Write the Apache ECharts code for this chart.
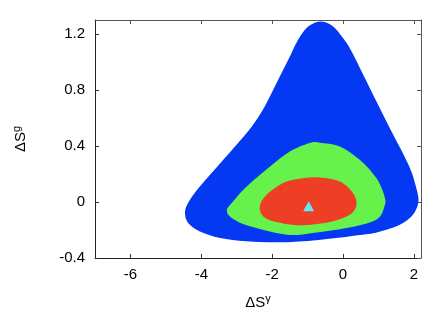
<!DOCTYPE html>
<html lang="en">
<head>
    <meta charset="UTF-8">
    <title>contours</title>
    <script src="https://cdn.jsdelivr.net/npm/echarts@6/dist/echarts.min.js"></script>
    <style>
        html, body { margin: 0; padding: 0; background: #fff; }
        #box { width: 443px; height: 320px; }
    </style>
</head>
<body>
    <div id="box"></div>
    <script>
        // tick labels
        var xTicks = [-6, -4, -2, 0, 2]
        var yTicks = [-0.4, 0, 0.4, 0.8, 1.2]

        // outer region (blue)
        var blueRegion = [
            [-0.61, 1.29], [-0.28, 1.254], [0, 1.171], [0.245, 1.074], [0.64, 0.874],
            [1.06, 0.659], [1.43, 0.474], [1.71, 0.338], [1.93, 0.216], [2.08, 0.088],
            [2.13, 0.016], [2.08, -0.043], [1.93, -0.103], [1.60, -0.162], [1.03, -0.212],
            [0.55, -0.234], [-0.85, -0.275], [-1.78, -0.288], [-2.72, -0.281], [-3.47, -0.257],
            [-4.04, -0.21], [-4.37, -0.15], [-4.46, -0.067], [-4.32, 0.016], [-4.04, 0.111],
            [-3.71, 0.207], [-3.38, 0.302], [-3.05, 0.397], [-2.72, 0.493], [-2.44, 0.588],
            [-2.21, 0.683], [-1.97, 0.802], [-1.735, 0.921], [-1.50, 1.04], [-1.268, 1.159],
            [-0.986, 1.254]
        ]
        // middle region (green)
        var greenRegion = [
            [-0.66, 0.424], [-0.093, 0.397], [0.47, 0.302], [0.94, 0.171], [1.17, 0.04],
            [1.17, -0.031], [0.94, -0.126], [0.096, -0.186], [-0.85, -0.221], [-1.59, -0.234],
            [-2.63, -0.174], [-3.14, -0.114], [-3.28, -0.06], [-3.14, -0.007], [-2.72, 0.111],
            [-2.06, 0.254], [-1.50, 0.361], [-0.94, 0.421]
        ]
        // inner region (red)
        var redRegion = [
            [-0.75, 0.177], [-0.093, 0.147], [0.28, 0.064], [0.38, -0.019], [0.19, -0.091],
            [-0.375, -0.143], [-1.22, -0.166], [-1.88, -0.143], [-2.25, -0.103], [-2.35, -0.031],
            [-2.16, 0.052], [-1.69, 0.136], [-1.31, 0.163]
        ]
        // best fit point
        var bestFit = [[-0.97, -0.03]]

        // closed smooth outline through the given pixel points (Catmull-Rom as cubic beziers)
        function closedPath(p) {
            var n = p.length
            var d = 'M' + p[0][0] + ',' + p[0][1]
            for (var i = 0; i < n; i++) {
                var p0 = p[(i - 1 + n) % n], p1 = p[i], p2 = p[(i + 1) % n], p3 = p[(i + 2) % n]
                var c1x = p1[0] + (p2[0] - p0[0]) / 6, c1y = p1[1] + (p2[1] - p0[1]) / 6
                var c2x = p2[0] - (p3[0] - p1[0]) / 6, c2y = p2[1] - (p3[1] - p1[1]) / 6
                d += 'C' + c1x + ',' + c1y + ',' + c2x + ',' + c2y + ',' + p2[0] + ',' + p2[1]
            }
            return d + 'Z'
        }

        function region(name, pts, color) {
            return {
                name: name,
                type: 'custom',
                data: pts,
                silent: true,
                renderItem: function (params, api) {
                    if (params.dataIndex !== 0) return null
                    var points = pts.map(function (p) { return api.coord(p) })
                    return {
                        type: 'path',
                        shape: { pathData: closedPath(points) },
                        style: { fill: color, stroke: null }
                    }
                }
            }
        }

        var fontName = 'Liberation Sans'
        var lbl = { color: '#000', fontSize: 15, fontFamily: fontName }

        var option = {
            backgroundColor: '#fff',
            animation: false,
            grid: { left: 95, right: 22, top: 20, bottom: 62 },
            xAxis: [{
                type: 'value', min: -7, max: 2.2,
                name: '{a|ΔS}{s|γ}', nameLocation: 'middle', nameGap: 35,
                nameTextStyle: { rich: { a: { fontSize: 15, fontFamily: fontName, color: '#000' },
                    s: { fontSize: 11, fontFamily: fontName, color: '#000', verticalAlign: 'top', padding: [0, 0, 8, 0] } } },
                axisLine: { onZero: false, lineStyle: { color: '#222', width: 1 } },
                axisTick: { inside: true, length: 4, customValues: xTicks, lineStyle: { color: '#333' } },
                axisLabel: Object.assign({ customValues: xTicks, margin: 9 }, lbl),
                splitLine: { show: false }
            }, {
                type: 'value', min: -7, max: 2.2, position: 'top',
                axisLine: { onZero: false, lineStyle: { color: '#555', width: 1 } },
                axisTick: { inside: true, length: 4, customValues: xTicks, lineStyle: { color: '#555' } },
                axisLabel: { show: false },
                splitLine: { show: false }
            }],
            yAxis: [{
                type: 'value', min: -0.4, max: 1.3,
                name: '{a|ΔS}{s|g}', nameLocation: 'middle', nameGap: 65, nameRotate: 90,
                nameTextStyle: { rich: { a: { fontSize: 15, fontFamily: fontName, color: '#000' },
                    s: { fontSize: 11, fontFamily: fontName, color: '#000', verticalAlign: 'top', padding: [0, 0, 8, 0] } } },
                axisLine: { show: true, onZero: false, lineStyle: { color: '#222', width: 1 } },
                axisTick: { show: true, inside: true, length: 4, customValues: yTicks, lineStyle: { color: '#333' } },
                axisLabel: Object.assign({ customValues: yTicks, margin: 10,
                    formatter: function (v) { return Math.abs(v) < 1e-9 ? '0' : v.toFixed(1) } }, lbl),
                splitLine: { show: false }
            }, {
                type: 'value', min: -0.4, max: 1.3, position: 'right',
                axisLine: { show: true, onZero: false, lineStyle: { color: '#555', width: 1 } },
                axisTick: { show: true, inside: true, length: 4, customValues: yTicks, lineStyle: { color: '#555' } },
                axisLabel: { show: false },
                splitLine: { show: false }
            }],
            series: [
                region('blue', blueRegion, '#0538f2'),
                region('green', greenRegion, '#66f24a'),
                region('red', redRegion, '#ee3e26'),
                {
                    type: 'scatter',
                    data: bestFit,
                    symbol: 'triangle',
                    symbolSize: [11, 10],
                    itemStyle: { color: '#66e8f2', opacity: 1 },
                    z: 5
                }
            ]
        }

        var chart = echarts.init(document.getElementById('box'))
        chart.setOption(option)
    </script>
</body>
</html>
